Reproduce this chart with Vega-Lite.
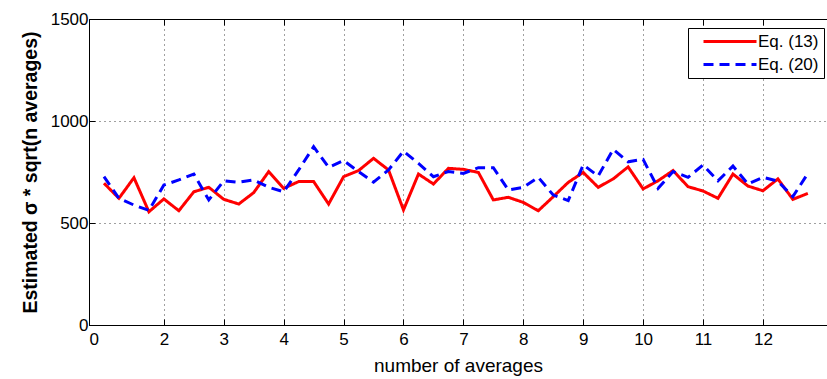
{
  "$schema": "https://vega.github.io/schema/vega-lite/v6.json",
  "width": 738,
  "height": 306,
  "autosize": {"type": "none"},
  "padding": {"left": 89, "top": 19, "right": 0, "bottom": 54},
  "background": "white",
  "config": {
    "font": "Liberation Sans",
    "view": {"stroke": null},
    "axis": {
      "domainColor": "black",
      "domainWidth": 1,
      "tickColor": "black",
      "tickWidth": 1,
      "tickSize": -6,
      "labelColor": "black",
      "labelFontSize": 17,
      "labelFont": "Liberation Sans",
      "titleColor": "black",
      "titleFont": "Liberation Sans",
      "gridColor": "#000000",
      "gridOpacity": 0.75,
      "gridDash": [1, 4],
      "gridWidth": 1
    },
    "legend": {
      "orient": "none",
      "legendX": 599,
      "legendY": 9,
      "strokeColor": "black",
      "fillColor": "white",
      "padding": 5,
      "symbolType": "M-1,0H9.6",
      "symbolSize": 100,
      "symbolOffset": 7,
      "symbolStrokeWidth": 3,
      "labelOffset": 41,
      "labelFontSize": 17,
      "labelFont": "Liberation Sans",
      "labelColor": "black",
      "rowPadding": 5
    }
  },
  "data": {
    "values": [
      {"series": "Eq. (13)", "x": 1.0, "y": 695},
      {"series": "Eq. (13)", "x": 1.25, "y": 621},
      {"series": "Eq. (13)", "x": 1.5, "y": 722},
      {"series": "Eq. (13)", "x": 1.75, "y": 555},
      {"series": "Eq. (13)", "x": 2.0, "y": 618},
      {"series": "Eq. (13)", "x": 2.25, "y": 560},
      {"series": "Eq. (13)", "x": 2.5, "y": 653},
      {"series": "Eq. (13)", "x": 2.75, "y": 675},
      {"series": "Eq. (13)", "x": 3.0, "y": 616},
      {"series": "Eq. (13)", "x": 3.25, "y": 593},
      {"series": "Eq. (13)", "x": 3.5, "y": 649},
      {"series": "Eq. (13)", "x": 3.75, "y": 752},
      {"series": "Eq. (13)", "x": 4.0, "y": 670},
      {"series": "Eq. (13)", "x": 4.25, "y": 703},
      {"series": "Eq. (13)", "x": 4.5, "y": 703},
      {"series": "Eq. (13)", "x": 4.75, "y": 593},
      {"series": "Eq. (13)", "x": 5.0, "y": 727},
      {"series": "Eq. (13)", "x": 5.25, "y": 757},
      {"series": "Eq. (13)", "x": 5.5, "y": 817},
      {"series": "Eq. (13)", "x": 5.75, "y": 760},
      {"series": "Eq. (13)", "x": 6.0, "y": 564},
      {"series": "Eq. (13)", "x": 6.25, "y": 740},
      {"series": "Eq. (13)", "x": 6.5, "y": 691},
      {"series": "Eq. (13)", "x": 6.75, "y": 768},
      {"series": "Eq. (13)", "x": 7.0, "y": 763},
      {"series": "Eq. (13)", "x": 7.25, "y": 748},
      {"series": "Eq. (13)", "x": 7.5, "y": 613},
      {"series": "Eq. (13)", "x": 7.75, "y": 626},
      {"series": "Eq. (13)", "x": 8.0, "y": 601},
      {"series": "Eq. (13)", "x": 8.25, "y": 560},
      {"series": "Eq. (13)", "x": 8.5, "y": 629},
      {"series": "Eq. (13)", "x": 8.75, "y": 699},
      {"series": "Eq. (13)", "x": 9.0, "y": 748},
      {"series": "Eq. (13)", "x": 9.25, "y": 675},
      {"series": "Eq. (13)", "x": 9.5, "y": 716},
      {"series": "Eq. (13)", "x": 9.75, "y": 775},
      {"series": "Eq. (13)", "x": 10.0, "y": 667},
      {"series": "Eq. (13)", "x": 10.25, "y": 707},
      {"series": "Eq. (13)", "x": 10.5, "y": 757},
      {"series": "Eq. (13)", "x": 10.75, "y": 678},
      {"series": "Eq. (13)", "x": 11.0, "y": 657},
      {"series": "Eq. (13)", "x": 11.25, "y": 621},
      {"series": "Eq. (13)", "x": 11.5, "y": 740},
      {"series": "Eq. (13)", "x": 11.75, "y": 681},
      {"series": "Eq. (13)", "x": 12.0, "y": 658},
      {"series": "Eq. (13)", "x": 12.25, "y": 716},
      {"series": "Eq. (13)", "x": 12.5, "y": 616},
      {"series": "Eq. (13)", "x": 12.75, "y": 645},
      {"series": "Eq. (20)", "x": 1.0, "y": 727},
      {"series": "Eq. (20)", "x": 1.25, "y": 621},
      {"series": "Eq. (20)", "x": 1.5, "y": 588},
      {"series": "Eq. (20)", "x": 1.75, "y": 562},
      {"series": "Eq. (20)", "x": 2.0, "y": 686},
      {"series": "Eq. (20)", "x": 2.25, "y": 711},
      {"series": "Eq. (20)", "x": 2.5, "y": 740},
      {"series": "Eq. (20)", "x": 2.75, "y": 613},
      {"series": "Eq. (20)", "x": 3.0, "y": 707},
      {"series": "Eq. (20)", "x": 3.25, "y": 700},
      {"series": "Eq. (20)", "x": 3.5, "y": 711},
      {"series": "Eq. (20)", "x": 3.75, "y": 675},
      {"series": "Eq. (20)", "x": 4.0, "y": 653},
      {"series": "Eq. (20)", "x": 4.25, "y": 760},
      {"series": "Eq. (20)", "x": 4.5, "y": 874},
      {"series": "Eq. (20)", "x": 4.75, "y": 773},
      {"series": "Eq. (20)", "x": 5.0, "y": 806},
      {"series": "Eq. (20)", "x": 5.25, "y": 752},
      {"series": "Eq. (20)", "x": 5.5, "y": 700},
      {"series": "Eq. (20)", "x": 5.75, "y": 760},
      {"series": "Eq. (20)", "x": 6.0, "y": 852},
      {"series": "Eq. (20)", "x": 6.25, "y": 792},
      {"series": "Eq. (20)", "x": 6.5, "y": 727},
      {"series": "Eq. (20)", "x": 6.75, "y": 752},
      {"series": "Eq. (20)", "x": 7.0, "y": 743},
      {"series": "Eq. (20)", "x": 7.25, "y": 771},
      {"series": "Eq. (20)", "x": 7.5, "y": 771},
      {"series": "Eq. (20)", "x": 7.75, "y": 662},
      {"series": "Eq. (20)", "x": 8.0, "y": 675},
      {"series": "Eq. (20)", "x": 8.25, "y": 724},
      {"series": "Eq. (20)", "x": 8.5, "y": 637},
      {"series": "Eq. (20)", "x": 8.75, "y": 610},
      {"series": "Eq. (20)", "x": 9.0, "y": 785},
      {"series": "Eq. (20)", "x": 9.25, "y": 730},
      {"series": "Eq. (20)", "x": 9.5, "y": 861},
      {"series": "Eq. (20)", "x": 9.75, "y": 800},
      {"series": "Eq. (20)", "x": 10.0, "y": 812},
      {"series": "Eq. (20)", "x": 10.25, "y": 670},
      {"series": "Eq. (20)", "x": 10.5, "y": 752},
      {"series": "Eq. (20)", "x": 10.75, "y": 724},
      {"series": "Eq. (20)", "x": 11.0, "y": 784},
      {"series": "Eq. (20)", "x": 11.25, "y": 707},
      {"series": "Eq. (20)", "x": 11.5, "y": 779},
      {"series": "Eq. (20)", "x": 11.75, "y": 691},
      {"series": "Eq. (20)", "x": 12.0, "y": 724},
      {"series": "Eq. (20)", "x": 12.25, "y": 705},
      {"series": "Eq. (20)", "x": 12.5, "y": 629},
      {"series": "Eq. (20)", "x": 12.75, "y": 743}
    ]
  },
  "layer": [
    {
      "transform": [{"filter": "datum.series == 'Eq. (13)'"}],
      "mark": {"type": "line", "strokeWidth": 3, "strokeCap": "butt", "strokeJoin": "miter"},
      "encoding": {
        "x": {
          "field": "x", "type": "quantitative",
          "scale": {"domain": [0.75, 13.07], "nice": false, "zero": false},
          "axis": {
            "orient": "bottom",
            "values": [0.75, 2, 3, 4, 5, 6, 7, 8, 9, 10, 11, 12],
            "labelExpr": "datum.value < 1 ? '0' : datum.label",
            "grid": true,
            "labelPadding": 12,
            "title": "number of averages",
            "titleFontSize": 19,
            "titleFontWeight": "normal",
            "titlePadding": 9
          }
        },
        "y": {
          "field": "y", "type": "quantitative",
          "scale": {"domain": [0, 1500], "nice": false},
          "axis": {
            "values": [0, 500, 1000, 1500],
            "format": "d",
            "grid": true,
            "labelPadding": 7,
            "title": "Estimated σ * sqrt(n averages)",
            "titleFontSize": 19.5,
            "titleFontWeight": "bold",
            "titlePadding": 10
          }
        },
        "color": {
          "field": "series", "type": "nominal",
          "scale": {"domain": ["Eq. (13)", "Eq. (20)"], "range": ["#ff0000", "#0000ff"]},
          "legend": {"title": null}
        },
        "strokeDash": {
          "field": "series", "type": "nominal",
          "scale": {"domain": ["Eq. (13)", "Eq. (20)"], "range": [[1, 0], [10, 6]]},
          "legend": {"title": null}
        }
      }
    },
    {
      "transform": [{"filter": "datum.series == 'Eq. (20)'"}],
      "mark": {"type": "line", "strokeWidth": 3, "strokeCap": "butt", "strokeJoin": "miter"},
      "encoding": {
        "x": {
          "field": "x", "type": "quantitative",
          "scale": {"domain": [0.75, 13.07], "nice": false, "zero": false},
          "axis": {
            "orient": "top",
            "values": [2, 3, 4, 5, 6, 7, 8, 9, 10, 11, 12],
            "labels": false,
            "grid": false,
            "title": null
          }
        },
        "y": {"field": "y", "type": "quantitative"},
        "color": {"field": "series", "type": "nominal"},
        "strokeDash": {"field": "series", "type": "nominal"}
      }
    }
  ],
  "resolve": {"axis": {"x": "independent"}}
}
